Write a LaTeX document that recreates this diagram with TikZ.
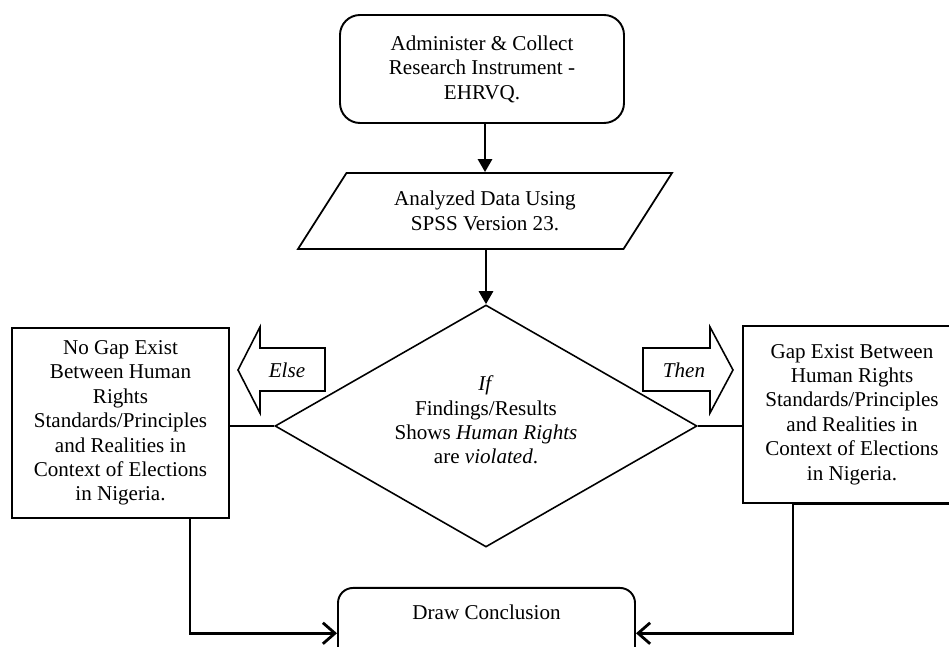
\documentclass[tikz,border=0pt]{standalone}
\usepackage{fontspec}
\setmainfont{Liberation Serif}
\usetikzlibrary{shapes.geometric,arrows.meta}

\begin{document}
\begin{tikzpicture}[
    txt/.style={font=\fontsize{12}{13.9}\selectfont, align=center},
    roundbox/.style={txt, draw, line width=1.1pt, rounded corners=0.4cm},
    plainbox/.style={txt, draw, line width=1pt, inner sep=0pt},
    flow/.style={line width=1.6pt, -{Triangle[length=2.6mm,width=2.8mm]}},
    back/.style={line width=1.6pt, -{Straight Barb[length=2.4mm,width=4.2mm,line width=1.6pt]}},
    link/.style={line width=0.9pt},
    bigarrow/.style={line width=0.9pt, line join=miter}
  ]
\useasboundingbox (0,0) rectangle (18.98,-12.94);
\clip (0,0) rectangle (18.98,-12.94);

% boxes
\node (collect) [roundbox, minimum width=5.68cm, minimum height=2.16cm] at (9.64,-1.38) {Administer \& Collect\\Research Instrument -\\EHRVQ.};
\node (analyze) [txt, draw, line width=1pt, trapezium, trapezium left angle=46.5, trapezium right angle=133.5, trapezium stretches body, minimum width=7.48cm, minimum height=1.52cm] at (9.7,-4.22) {Analyzed Data Using\\SPSS Version 23.};
\node (decide) [txt, draw, diamond, aspect=1.74, line width=0.9pt, minimum width=8.44cm, minimum height=4.84cm, inner sep=0pt] at (9.72,-8.52) {\textit{If}\\Findings/Results\\Shows \textit{Human Rights}\\are \textit{violated}.\\[-7pt]};
\node (nogap) [plainbox, minimum width=4.34cm, minimum height=3.8cm] at (2.41,-8.46) {No Gap Exist\\Between Human\\Rights\\Standards/Principles\\and Realities in\\Context of Elections\\in Nigeria.};
\node (gap) [plainbox, minimum width=4.36cm, minimum height=3.54cm] at (17.04,-8.29) {Gap Exist Between\\Human Rights\\Standards/Principles\\and Realities in\\Context of Elections\\in Nigeria.};
\node (conclude) [roundbox, anchor=north, rounded corners=0.3cm, minimum width=5.94cm, inner ysep=0.34cm, text depth=0.84cm] at (9.73,-11.74) {Draw Conclusion};

% else / then arrows
\draw[bigarrow] (6.5,-6.96) -- (5.2,-6.96) -- (5.2,-6.54) -- (4.76,-7.4) -- (5.2,-8.26) -- (5.2,-7.82) -- (6.5,-7.82) -- cycle;
\draw[bigarrow] (12.86,-6.96) -- (14.2,-6.96) -- (14.2,-6.54) -- (14.66,-7.4) -- (14.2,-8.26) -- (14.2,-7.82) -- (12.86,-7.82) -- cycle;
\node (elsetxt) [txt] at (5.74,-7.4) {\textit{Else}};
\node (thentxt) [txt] at (13.68,-7.4) {\textit{Then}};

% connectors
\draw[flow] (collect.south -| analyze.north) -- (analyze.north);
\draw[flow] (analyze.south -| decide.north) -- (decide.north);
\draw[link] (decide.west -| nogap.east) -- (decide.west);
\draw[link] (decide.east) -- (decide.east -| gap.west);
\draw[back] ([xshift=1.39cm]nogap.south) |- (conclude.west);
\draw[back] (gap.south east) -- ([xshift=-1.18cm]gap.south) |- (conclude.east);
\end{tikzpicture}
\end{document}
